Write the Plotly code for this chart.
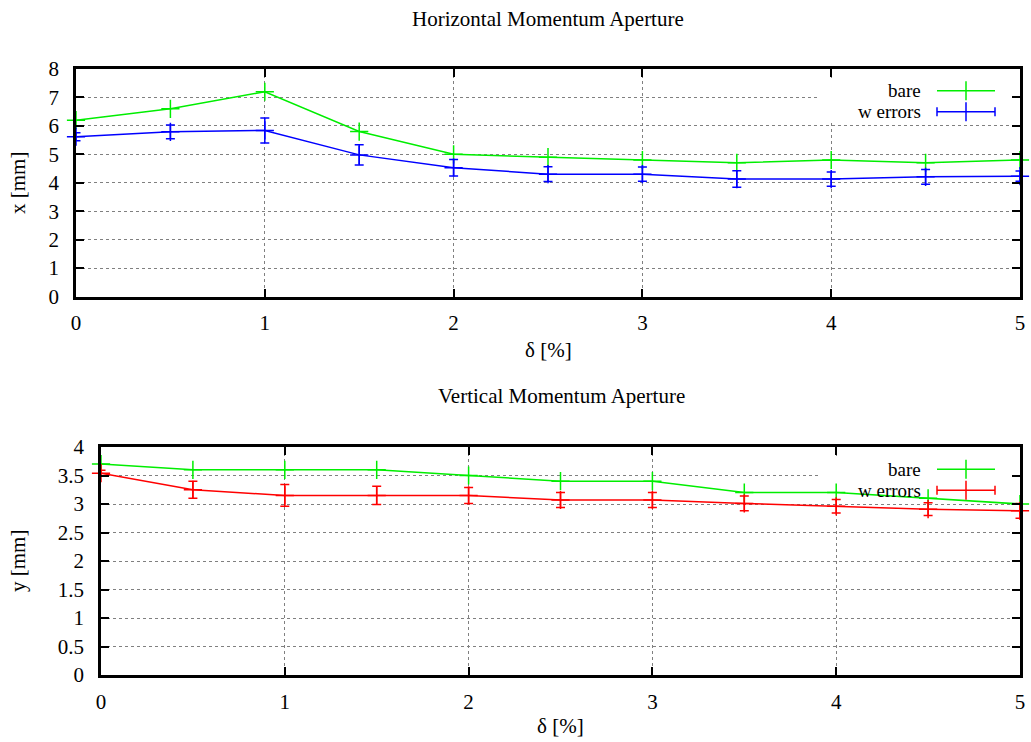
import plotly.graph_objects as go
from plotly.subplots import make_subplots

# ---- data ----
delta = [0, 0.5, 1, 1.5, 2, 2.5, 3, 3.5, 4, 4.5, 5]

x_bare = [6.2, 6.6, 7.2, 5.8, 5.0, 4.9, 4.8, 4.7, 4.8, 4.7, 4.8]
x_err = [5.62, 5.79, 5.84, 4.98, 4.53, 4.30, 4.30, 4.13, 4.13, 4.21, 4.23]
x_err_sd = [0.14, 0.24, 0.44, 0.36, 0.29, 0.26, 0.25, 0.29, 0.25, 0.26, 0.18]

y_bare = [3.7, 3.6, 3.6, 3.6, 3.5, 3.4, 3.4, 3.2, 3.2, 3.1, 3.0]
y_err = [3.54, 3.25, 3.15, 3.15, 3.15, 3.07, 3.07, 3.01, 2.96, 2.91, 2.88]
y_err_sd = [0.05, 0.15, 0.19, 0.16, 0.14, 0.13, 0.13, 0.13, 0.12, 0.11, 0.13]

x_ticks = [0, 1, 2, 3, 4, 5]
top_title = "Horizontal Momentum Aperture"
bot_title = "Vertical Momentum Aperture"
x_label = "δ [%]"
top_ylabel = "x [mm]"
bot_ylabel = "y [mm]"
series_names = ["bare", "w errors"]

GREEN = "#00ee00"
BLUE = "#0000ff"
RED = "#ff0000"
FONT = "Liberation Serif"
FS = 21
FS_KEY = 19

W, H = 1031, 742


def px(x):
    return x / W


def py(y):
    return 1 - y / H


# plot areas in pixels
TOP = dict(x0=76, x1=1020, y0=69, y1=296.5, xmax=5, ymax=8)
BOT = dict(x0=101, x1=1020, y0=447, y1=675, xmax=5, ymax=4)

fig = make_subplots(rows=2, cols=1)


def mk(color):
    return dict(color=color, symbol="cross-thin", size=13, line=dict(width=1.5, color=color))


fig.add_trace(go.Scatter(x=delta, y=x_bare, mode="lines+markers", name=series_names[0],
                         line=dict(color=GREEN, width=1.5), marker=mk(GREEN),
                         cliponaxis=False, showlegend=False), row=1, col=1)
fig.add_trace(go.Scatter(x=delta, y=x_err, mode="lines+markers", name=series_names[1],
                         line=dict(color=BLUE, width=1.5), marker=mk(BLUE),
                         error_y=dict(type="data", array=x_err_sd, width=4.5, thickness=1.5, color=BLUE),
                         cliponaxis=False, showlegend=False), row=1, col=1)
fig.add_trace(go.Scatter(x=delta, y=y_bare, mode="lines+markers", name=series_names[0],
                         line=dict(color=GREEN, width=1.5), marker=mk(GREEN),
                         cliponaxis=False, showlegend=False), row=2, col=1)
fig.add_trace(go.Scatter(x=delta, y=y_err, mode="lines+markers", name=series_names[1],
                         line=dict(color=RED, width=1.5), marker=mk(RED),
                         error_y=dict(type="data", array=y_err_sd, width=4.5, thickness=1.5, color=RED),
                         cliponaxis=False, showlegend=False), row=2, col=1)

axis_common = dict(
    showline=True, linecolor="black", linewidth=2.5, mirror="allticks",
    ticks="inside", ticklen=8, tickwidth=2, tickcolor="black",
    showgrid=True, gridcolor="#808080", griddash="dot", gridwidth=1,
    zeroline=False, automargin=False, layer="above traces",
    tickfont=dict(family=FONT, size=FS, color="black"),
)

fig.update_xaxes(**axis_common, range=[0, 5], tickvals=x_ticks, ticklabelstandoff=6)
fig.update_yaxes(**axis_common, ticklabelstandoff=10)
fig.update_yaxes(range=[0, 8], dtick=1, tick0=0, row=1, col=1)
fig.update_yaxes(range=[0, 4], dtick=0.5, tick0=0, row=2, col=1)

fig.update_layout(
    template="none",
    width=W, height=H, margin=dict(l=0, r=0, t=0, b=0, pad=0, autoexpand=False),
    paper_bgcolor="white", plot_bgcolor="white", showlegend=False,
    font=dict(family=FONT, size=FS, color="black"),
    xaxis=dict(domain=[px(TOP["x0"]), px(TOP["x1"])]),
    yaxis=dict(domain=[py(TOP["y1"]), py(TOP["y0"])]),
    xaxis2=dict(domain=[px(BOT["x0"]), px(BOT["x1"])]),
    yaxis2=dict(domain=[py(BOT["y1"]), py(BOT["y0"])]),
)

ann = []


def text(x, y, s, anchor="center", angle=0, size=FS):
    ann.append(dict(x=px(x), y=py(y), xref="paper", yref="paper", text=s, showarrow=False,
                    xanchor=anchor, yanchor="middle", textangle=angle,
                    font=dict(family=FONT, size=size, color="black")))


text(548, 19, top_title)
text(561, 396, bot_title)
text(548, 350, x_label)
text(560, 726, x_label)
text(18, 183, top_ylabel, angle=-90)
text(18, 561, bot_ylabel, angle=-90)

shapes = []


def legend(area, xref, yref, top, col):
    # white key box hiding the grid (between grid and traces)
    def dx(p):
        return (p - area["x0"]) / (area["x1"] - area["x0"]) * area["xmax"]

    def dy(p):
        return (area["y1"] - p) / (area["y1"] - area["y0"]) * area["ymax"]

    bx0, bx1 = 820, 1011
    by0, by1 = top - 11.7, top + 31.5
    shapes.append(dict(type="rect", xref=xref, yref=yref,
                       x0=dx(bx0), x1=dx(bx1), y0=dy(by1), y1=dy(by0),
                       fillcolor="white", line=dict(width=0), layer="between"))
    y1 = top
    y2 = top + 21
    text(922.7, y1, series_names[0], anchor="right", size=FS_KEY)
    text(922.7, y2, series_names[1], anchor="right", size=FS_KEY)
    sx0, sx1, sxc = 937, 995, 966

    def seg(xa, ya, xb, yb, c):
        shapes.append(dict(type="line", xref="paper", yref="paper",
                           x0=px(xa), y0=py(ya), x1=px(xb), y1=py(yb),
                           line=dict(color=c, width=1.5), layer="above"))

    seg(sx0, y1, sx1, y1, GREEN)
    seg(sxc, y1 - 9.5, sxc, y1 + 9.5, GREEN)
    seg(sx0, y2, sx1, y2, col)
    seg(sxc, y2 - 9.5, sxc, y2 + 9.5, col)
    seg(sx0, y2 - 4.5, sx0, y2 + 4.5, col)
    seg(sx1, y2 - 4.5, sx1, y2 + 4.5, col)


legend(TOP, "x", "y", 90.7, BLUE)
legend(BOT, "x2", "y2", 469.3, RED)

fig.update_layout(annotations=ann, shapes=shapes)

fig.write_html("out.html")
